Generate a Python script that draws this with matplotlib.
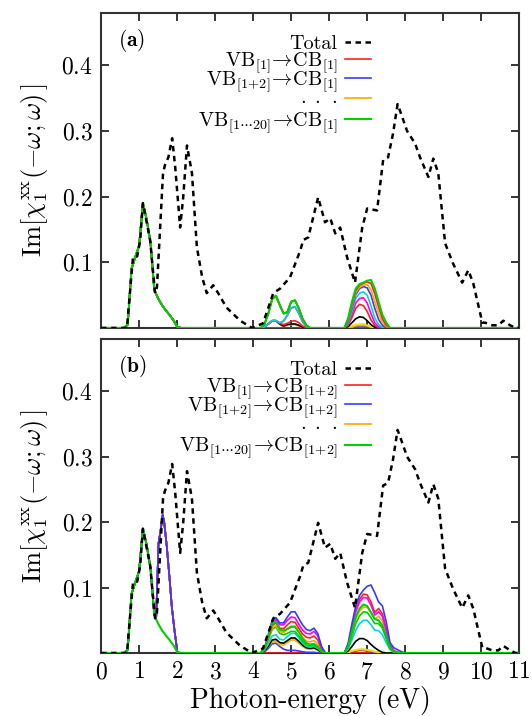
import matplotlib
matplotlib.use("Agg")
import matplotlib.pyplot as plt
from matplotlib.legend import Legend

plt.rcParams['font.family'] = 'serif'
plt.rcParams['font.serif'] = ['cmr10']
plt.rcParams['mathtext.fontset'] = 'cm'
plt.rcParams['axes.unicode_minus'] = False
plt.rcParams['axes.formatter.use_mathtext'] = True

# total spectrum (same in both panels)
e_total = [0, 0.68, 0.84, 0.95, 1.03, 1.10, 1.29, 1.42, 1.47, 1.55, 1.63, 1.68, 1.77, 1.87,
           1.95, 2.08, 2.16, 2.26, 2.39, 2.52, 2.66, 2.78, 2.95, 3.08, 3.30, 3.66, 3.97, 4.26,
           4.53, 4.71, 4.97, 5.24, 5.32, 5.45, 5.71, 5.89, 6.03, 6.16, 6.29, 6.47, 6.68, 6.87,
           7.00, 7.26, 7.42, 7.55, 7.68, 7.80, 7.90, 8.05, 8.26, 8.39, 8.61, 8.74, 8.87, 9.05,
           9.26, 9.50, 9.66, 9.79, 10.03, 10.10, 10.29, 10.45, 10.58, 10.76, 10.90, 11.0]
chi_total = [0, 0, 0.108, 0.109, 0.134, 0.190, 0.134, 0.053, 0.062, 0.149, 0.236, 0.248, 0.260,
             0.289, 0.245, 0.153, 0.199, 0.278, 0.236, 0.123, 0.077, 0.053, 0.065, 0.053, 0.031,
             0.011, 0.0, 0.007, 0.053, 0.060, 0.077, 0.118, 0.134, 0.138, 0.199, 0.161, 0.167,
             0.144, 0.153, 0.108, 0.069, 0.153, 0.182, 0.179, 0.256, 0.260, 0.296, 0.341, 0.325,
             0.300, 0.281, 0.260, 0.230, 0.258, 0.236, 0.129, 0.098, 0.069, 0.088, 0.068, 0.008,
             0.008, 0.004, 0.004, 0.011, 0.004, 0.0, 0.0]

# low-energy peak with shoulder
e_low = [0.6, 0.7, 0.8, 0.9, 1.0, 1.1, 1.2, 1.3, 1.4, 1.5, 1.6, 1.7, 1.8, 1.9, 2.0, 2.1]
chi_low = [0, 0.005, 0.09, 0.108, 0.125, 0.190, 0.165, 0.130, 0.058, 0.045, 0.035, 0.027,
           0.020, 0.012, 0.002, 0]
# low-energy peak plus the CB2 peak near 1.65 eV
e_low_pk = [0.6, 0.7, 0.8, 0.9, 1.0, 1.1, 1.2, 1.3, 1.4, 1.45, 1.51, 1.56, 1.62, 1.66, 1.73,
            1.80, 1.86, 1.93, 2.01, 2.1]
chi_low_pk = [0, 0.005, 0.09, 0.108, 0.125, 0.190, 0.165, 0.130, 0.058, 0.055, 0.167, 0.185,
              0.211, 0.200, 0.162, 0.115, 0.071, 0.035, 0.0, 0]

# panel (a): VB -> CB[1]
e_mid_a = [4.2, 4.3, 4.4, 4.5, 4.6, 4.7, 4.8, 4.9, 5.0, 5.1, 5.2, 5.3, 5.4, 5.5]
mid_a = [
    [0, 0, 0, 0, 0, 0, 0, 0, 0, 0, 0, 0, 0, 0],
    [0, 0.002, 0.006, 0.011, 0.011, 0.006, 0.002, 0, 0, 0, 0, 0, 0, 0],
    [0, 0.002, 0.006, 0.011, 0.011, 0.006, 0.003, 0.004, 0.005, 0.005, 0.003, 0.001, 0, 0],
    [0, 0.002, 0.006, 0.011, 0.011, 0.006, 0.003, 0.005, 0.006, 0.006, 0.004, 0.001, 0, 0],
    [0, 0.002, 0.006, 0.011, 0.011, 0.006, 0.003, 0.005, 0.006, 0.006, 0.004, 0.001, 0, 0],
    [0, 0.002, 0.006, 0.011, 0.011, 0.007, 0.005, 0.007, 0.010, 0.011, 0.008, 0.003, 0, 0],
    [0, 0.002, 0.006, 0.011, 0.011, 0.008, 0.010, 0.019, 0.030, 0.032, 0.022, 0.009, 0.002, 0],
    [0, 0.002, 0.006, 0.011, 0.011, 0.008, 0.011, 0.020, 0.031, 0.033, 0.023, 0.010, 0.002, 0],
    [0, 0.006, 0.022, 0.044, 0.049, 0.035, 0.022, 0.024, 0.040, 0.042, 0.030, 0.014, 0.004, 0],
    [0, 0.006, 0.022, 0.044, 0.049, 0.035, 0.022, 0.024, 0.040, 0.042, 0.030, 0.014, 0.004, 0],
    [0, 0.006, 0.022, 0.044, 0.049, 0.035, 0.022, 0.024, 0.040, 0.042, 0.030, 0.014, 0.004, 0],
    [0, 0.006, 0.022, 0.044, 0.049, 0.035, 0.022, 0.024, 0.040, 0.042, 0.030, 0.014, 0.004, 0],
]
e_high_a = [6.4, 6.5, 6.6, 6.7, 6.8, 6.9, 7.0, 7.1, 7.2, 7.3, 7.4, 7.5, 7.6]
high_a = [
    [0, 0, 0, 0, 0, 0, 0, 0, 0, 0, 0, 0, 0],
    [0, 0, 0.001, 0.002, 0.003, 0.003, 0.002, 0.001, 0, 0, 0, 0, 0],
    [0, 0, 0.001, 0.003, 0.004, 0.004, 0.003, 0.001, 0, 0, 0, 0, 0],
    [0, 0.001, 0.003, 0.005, 0.006, 0.006, 0.004, 0.002, 0, 0, 0, 0, 0],
    [0, 0.002, 0.008, 0.014, 0.017, 0.016, 0.011, 0.005, 0.001, 0, 0, 0, 0],
    [0, 0.004, 0.016, 0.030, 0.036, 0.034, 0.025, 0.012, 0.004, 0, 0, 0, 0],
    [0, 0.006, 0.021, 0.038, 0.045, 0.046, 0.038, 0.022, 0.008, 0.002, 0, 0, 0],
    [0, 0.008, 0.026, 0.045, 0.053, 0.055, 0.050, 0.034, 0.015, 0.005, 0.001, 0, 0],
    [0, 0.010, 0.031, 0.051, 0.060, 0.063, 0.061, 0.050, 0.030, 0.013, 0.004, 0, 0],
    [0, 0.012, 0.034, 0.054, 0.062, 0.065, 0.066, 0.058, 0.040, 0.022, 0.008, 0.002, 0],
    [0, 0.013, 0.037, 0.057, 0.065, 0.068, 0.070, 0.068, 0.052, 0.032, 0.014, 0.004, 0],
    [0, 0.015, 0.040, 0.060, 0.067, 0.069, 0.072, 0.073, 0.060, 0.040, 0.020, 0.008, 0],
]
colors_a = ['#ff2020', '#3a3aff', '#ffa500', '#e6e600', 'black', '#ff2020',
            '#ff00ff', '#00d8d8', '#3a3aff', '#ffa500', '#ff2020', '#00d000']

# panel (b): VB -> CB[1+2]
e_mid_b = [4.2, 4.3, 4.4, 4.5, 4.6, 4.7, 4.8, 4.9, 5.0, 5.1, 5.2, 5.3, 5.4, 5.5, 5.6, 5.7, 5.8, 5.9]
mid_b = [
    [0, 0, 0, 0, 0, 0, 0, 0, 0, 0, 0, 0, 0, 0, 0, 0, 0, 0],
    [0, 0.002, 0.007, 0.014, 0.015, 0.010, 0.006, 0.004, 0.004, 0.004, 0.003, 0.002, 0.001, 0.001, 0.001, 0, 0, 0],
    [0, 0.003, 0.009, 0.017, 0.018, 0.013, 0.012, 0.016, 0.020, 0.020, 0.015, 0.010, 0.007, 0.006, 0.007, 0.004, 0.001, 0],
    [0, 0.003, 0.010, 0.019, 0.020, 0.015, 0.014, 0.018, 0.022, 0.022, 0.017, 0.011, 0.008, 0.007, 0.008, 0.005, 0.001, 0],
    [0, 0.003, 0.010, 0.020, 0.021, 0.016, 0.015, 0.019, 0.023, 0.023, 0.018, 0.012, 0.008, 0.007, 0.008, 0.005, 0.001, 0],
    [0, 0.004, 0.014, 0.026, 0.028, 0.021, 0.020, 0.025, 0.030, 0.030, 0.023, 0.015, 0.010, 0.009, 0.010, 0.007, 0.002, 0],
    [0, 0.006, 0.020, 0.036, 0.040, 0.030, 0.028, 0.030, 0.033, 0.033, 0.026, 0.018, 0.012, 0.011, 0.012, 0.008, 0.002, 0],
    [0, 0.006, 0.021, 0.038, 0.042, 0.033, 0.031, 0.036, 0.041, 0.041, 0.033, 0.024, 0.018, 0.017, 0.019, 0.014, 0.004, 0],
    [0, 0.007, 0.023, 0.042, 0.046, 0.038, 0.037, 0.043, 0.048, 0.047, 0.038, 0.029, 0.024, 0.023, 0.026, 0.020, 0.006, 0],
    [0, 0.007, 0.026, 0.047, 0.051, 0.043, 0.043, 0.050, 0.055, 0.054, 0.044, 0.035, 0.030, 0.029, 0.033, 0.026, 0.008, 0],
    [0, 0.008, 0.028, 0.050, 0.054, 0.046, 0.046, 0.055, 0.063, 0.063, 0.053, 0.043, 0.036, 0.034, 0.038, 0.030, 0.010, 0],
    [0, 0.007, 0.025, 0.045, 0.048, 0.036, 0.034, 0.037, 0.040, 0.040, 0.032, 0.022, 0.015, 0.013, 0.014, 0.010, 0.003, 0],
]
e_high_b = [6.3, 6.4, 6.5, 6.6, 6.7, 6.8, 6.9, 7.0, 7.1, 7.2, 7.3, 7.4, 7.5, 7.6, 7.7, 7.8, 7.9, 8.0]
high_b = [
    [0, 0, 0, 0, 0, 0, 0, 0, 0, 0, 0, 0, 0, 0, 0, 0, 0, 0],
    [0, 0, 0.001, 0.002, 0.003, 0.004, 0.004, 0.003, 0.002, 0.001, 0, 0, 0, 0, 0, 0, 0, 0],
    [0, 0, 0.001, 0.003, 0.004, 0.005, 0.005, 0.004, 0.003, 0.002, 0.001, 0, 0, 0, 0, 0, 0, 0],
    [0, 0, 0.001, 0.003, 0.005, 0.006, 0.006, 0.005, 0.004, 0.002, 0.001, 0, 0, 0, 0, 0, 0, 0],
    [0, 0, 0.003, 0.010, 0.018, 0.022, 0.022, 0.019, 0.013, 0.008, 0.004, 0.001, 0, 0, 0, 0, 0, 0],
    [0, 0, 0.006, 0.020, 0.035, 0.045, 0.050, 0.050, 0.043, 0.035, 0.034, 0.028, 0.016, 0.005, 0.001, 0, 0, 0],
    [0, 0, 0.008, 0.026, 0.045, 0.057, 0.063, 0.062, 0.054, 0.045, 0.045, 0.038, 0.022, 0.007, 0.002, 0, 0, 0],
    [0, 0, 0.010, 0.030, 0.052, 0.064, 0.070, 0.070, 0.062, 0.052, 0.056, 0.049, 0.030, 0.009, 0.003, 0, 0, 0],
    [0, 0, 0.013, 0.040, 0.066, 0.082, 0.090, 0.089, 0.078, 0.062, 0.068, 0.060, 0.038, 0.012, 0.004, 0.001, 0, 0],
    [0, 0, 0.012, 0.038, 0.063, 0.078, 0.085, 0.084, 0.073, 0.058, 0.063, 0.056, 0.035, 0.011, 0.003, 0.001, 0, 0],
    [0, 0, 0.015, 0.045, 0.072, 0.088, 0.096, 0.102, 0.104, 0.092, 0.078, 0.072, 0.048, 0.016, 0.008, 0.005, 0.002, 0],
    [0, 0, 0.010, 0.032, 0.055, 0.068, 0.074, 0.072, 0.062, 0.052, 0.050, 0.042, 0.025, 0.008, 0.002, 0, 0, 0],
]
colors_b = ['#ff2020', '#3a3aff', '#ffa500', '#e6e600', 'black', '#00d8d8',
            '#00d000', '#ffa500', '#ff2020', '#ff00ff', '#3a3aff', '#00d000']

labels_a = ['Total',
            r'$\mathrm{VB}_{[1]}\!\rightarrow\!\mathrm{CB}_{[1]}$',
            r'$\mathrm{VB}_{[1\!+\!2]}\!\rightarrow\!\mathrm{CB}_{[1]}$',
            r'$\cdot\;\cdot\;\cdot$',
            r'$\mathrm{VB}_{[1\cdots20]}\!\rightarrow\!\mathrm{CB}_{[1]}$']
labels_b = ['Total',
            r'$\mathrm{VB}_{[1]}\!\rightarrow\!\mathrm{CB}_{[1\!+\!2]}$',
            r'$\mathrm{VB}_{[1\!+\!2]}\!\rightarrow\!\mathrm{CB}_{[1\!+\!2]}$',
            r'$\cdot\;\cdot\;\cdot$',
            r'$\mathrm{VB}_{[1\cdots20]}\!\rightarrow\!\mathrm{CB}_{[1\!+\!2]}$']
# vertical centre of each key row, axes fraction
key_rows = [0.902, 0.841, 0.781, 0.724, 0.651]


def join_curve(le, lv, me, mv, he, hv):
    e = [0.0] + le + me + he + [11.0]
    v = [0.0] + lv + mv + hv + [0.0]
    return e, v


fig = plt.figure(figsize=(5.32, 7.16), dpi=100)
ax_a = fig.add_axes([0.190, 0.542, 0.786, 0.440])
ax_b = fig.add_axes([0.190, 0.088, 0.786, 0.4385])

panels = [
    (ax_a, e_mid_a, mid_a, e_high_a, high_a, colors_a, labels_a, r'$(\mathbf{a})$', False),
    (ax_b, e_mid_b, mid_b, e_high_b, high_b, colors_b, labels_b, r'$(\mathbf{b})$', True),
]

for ax, e_mid, mid, e_high, high, cols, labs, tag, has_pk in panels:
    tot, = ax.plot(e_total, chi_total, color='black', lw=1.8, dashes=(2.2, 1.8), zorder=5)
    keys = [tot]
    n = len(mid)
    for i in range(n):
        if has_pk and i < n - 1:
            le, lv = e_low_pk, chi_low_pk
        else:
            le, lv = e_low, chi_low
        e, v = join_curve(le, lv, e_mid, mid[i], e_high, high[i])
        lw = 1.5 if i == n - 1 else 1.2
        ln, = ax.plot(e, v, color=cols[i], lw=lw, zorder=3)
        if i in (0, 1, 2, n - 1):
            keys.append(ln)

    ax.set_xlim(0, 11)
    ax.set_ylim(0, 0.48)
    ax.set_xticks(range(12))
    ax.set_yticks([0.1, 0.2, 0.3, 0.4])
    ax.tick_params(direction='in', top=True, right=True, length=6, width=1.1,
                   labelsize=17, pad=6)
    for sp in ax.spines.values():
        sp.set_linewidth(1.5)
        sp.set_color('#333333')
    ax.set_ylabel(r'$\mathrm{Im}[\chi_1^{\mathrm{xx}}(-\omega;\omega)\,]$', fontsize=19, labelpad=8)
    ax.text(0.04, 0.912, tag, transform=ax.transAxes, fontsize=15.5, va='center')

    # one key per row so the rows sit at fixed heights
    for k, lab, yk in zip(keys, labs, key_rows):
        leg = Legend(ax, [k], [lab], loc='center right', bbox_to_anchor=(0.645, yk),
                     frameon=False, markerfirst=False, fontsize=14.5, handlelength=1.3,
                     handletextpad=0.35, borderpad=0, borderaxespad=0)
        ax.add_artist(leg)

ax_a.tick_params(labelbottom=False)
ax_b.set_xlabel('Photon-energy (eV)', fontsize=20, labelpad=2)

fig.savefig('out.png', dpi=100)
